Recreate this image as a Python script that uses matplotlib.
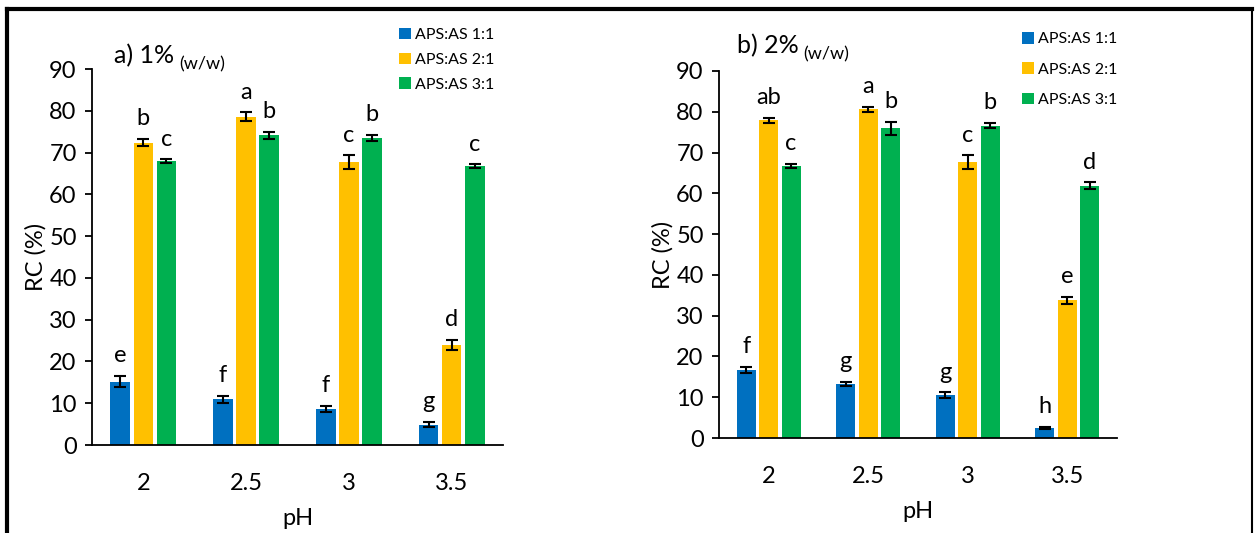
import numpy as np
import matplotlib.pyplot as plt
from matplotlib.lines import Line2D

plt.rcParams['font.family'] = ['Lato', 'DejaVu Sans']

ph_labels = ['2', '2.5', '3', '3.5']
series_names = ['APS:AS 1:1', 'APS:AS 2:1', 'APS:AS 3:1']
colors = ['#0070C0', '#FFC000', '#00B050']

# panel a) 1% (w/w)
a_vals = [[15.2, 10.9, 8.6, 4.9],
          [72.4, 78.6, 67.7, 23.9],
          [68.0, 74.1, 73.5, 66.7]]
a_errs = [[1.4, 0.8, 0.8, 0.7],
          [0.8, 1.0, 1.6, 1.2],
          [0.4, 0.8, 0.7, 0.5]]
a_letters = [['e', 'f', 'f', 'g'],
             ['b', 'a', 'c', 'd'],
             ['c', 'b', 'b', 'c']]

# panel b) 2% (w/w)
b_vals = [[16.7, 13.2, 10.5, 2.5],
          [77.9, 80.6, 67.6, 33.8],
          [66.8, 75.9, 76.6, 61.9]]
b_errs = [[0.8, 0.5, 0.7, 0.3],
          [0.6, 0.6, 1.7, 0.9],
          [0.5, 1.6, 0.6, 0.8]]
b_letters = [['f', 'g', 'g', 'h'],
             ['ab', 'a', 'c', 'e'],
             ['c', 'b', 'b', 'd']]


def draw_panel(ax, vals, errs, letters):
    x = np.arange(len(ph_labels))
    offsets = [-0.225, 0, 0.225]
    for i in range(3):
        ax.bar(x + offsets[i], vals[i], width=0.19, color=colors[i],
               yerr=errs[i], capsize=4,
               error_kw=dict(ecolor='black', elinewidth=1.5, capthick=1.5),
               label=series_names[i])
        for j in range(len(x)):
            ax.annotate(letters[i][j], (x[j] + offsets[i], vals[i][j] + errs[i][j]),
                        xytext=(0, 7), textcoords='offset points',
                        ha='center', va='bottom', fontsize=17)
    ax.set_xlim(-0.5, 3.5)
    ax.set_ylim(0, 90)
    ax.set_yticks(range(0, 91, 10))
    ax.set_xticks(x)
    ax.set_xticklabels(ph_labels)
    ax.spines['top'].set_visible(False)
    ax.spines['right'].set_visible(False)
    ax.spines['left'].set_linewidth(1.3)
    ax.spines['bottom'].set_linewidth(1.3)
    ax.tick_params(axis='y', labelsize=17, length=5, width=1.3, pad=6)
    ax.tick_params(axis='x', labelsize=17, length=0, pad=20)
    ax.set_xlabel('pH', fontsize=17, labelpad=10)
    ax.set_ylabel('RC (%)', fontsize=17, labelpad=2)


fig = plt.figure(figsize=(12.55, 5.33), dpi=100)
ax1 = fig.add_axes([0.0733, 0.1651, 0.3275, 0.7054])
ax2 = fig.add_axes([0.5729, 0.1782, 0.3171, 0.6886])

draw_panel(ax1, a_vals, a_errs, a_letters)
draw_panel(ax2, b_vals, b_errs, b_letters)

ax1.legend(loc='upper left', bbox_to_anchor=(0.318, 0.948), bbox_transform=fig.transFigure,
           frameon=False, fontsize=11.5, handlelength=0.75, handleheight=0.75,
           handletextpad=0.25, labelspacing=0.65, borderpad=0, borderaxespad=0)
ax2.legend(loc='upper left', bbox_to_anchor=(0.814, 0.940), bbox_transform=fig.transFigure,
           frameon=False, fontsize=11.5, handlelength=0.75, handleheight=0.75,
           handletextpad=0.25, labelspacing=1.0, borderpad=0, borderaxespad=0)

# panel titles
fig.text(114 / 1255, 1 - 56 / 533, 'a) 1%', fontsize=18, va='center', ha='left')
fig.text(179 / 1255, 1 - 64 / 533, '(w/w)', fontsize=13, va='center', ha='left')
fig.text(737 / 1255, 1 - 46 / 533, 'b) 2%', fontsize=18, va='center', ha='left')
fig.text(803 / 1255, 1 - 54 / 533, '(w/w)', fontsize=13, va='center', ha='left')

# outer frame
fig.add_artist(Line2D([7 / 1255, 7 / 1255], [0, 1 - 9 / 533], color='black', lw=3,
                      transform=fig.transFigure))
fig.add_artist(Line2D([7 / 1255, 1252 / 1255], [1 - 9 / 533, 1 - 9 / 533], color='black', lw=3,
                      transform=fig.transFigure))
fig.add_artist(Line2D([1252 / 1255, 1252 / 1255], [0, 1 - 9 / 533], color='black', lw=1.5,
                      transform=fig.transFigure))

fig.savefig('out.png', dpi=100)
